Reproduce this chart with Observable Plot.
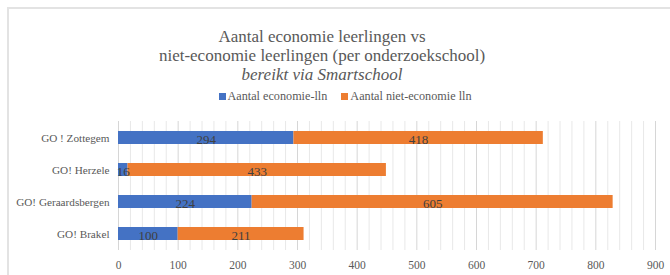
<!DOCTYPE html>
<html>
<head>
<meta charset="utf-8">
<script src="https://cdn.jsdelivr.net/npm/d3@7"></script>
<script src="https://cdn.jsdelivr.net/npm/@observablehq/plot@0.6"></script>
<style>
  html, body { margin: 0; padding: 0; background: #fff; }
  body { width: 670px; height: 275px; position: relative; overflow: hidden; font-family: "Liberation Serif", "Times New Roman", serif; }
  #frame { position: absolute; left: 7px; top: 7px; width: 700px; height: 300px; border: 2px solid #e3e3e3; box-sizing: border-box; }
  #title { position: absolute; left: 0; width: 644px; top: 27px; text-align: center; color: #595959; font-size: 17px; line-height: 19px; }
  #title i { font-style: italic; }
  #legend { position: absolute; left: 0; width: 690px; top: 89px; text-align: center; color: #595959; font-size: 12.2px; }
  #legend span.item { margin: 0 7px; }
  #legend span.sw { display: inline-block; width: 7px; height: 7px; margin-right: 2px; vertical-align: 0px; }
  #chart { position: absolute; left: 0; top: 110px; }
</style>
</head>
<body>
<div id="frame"></div>
<div id="title">Aantal economie leerlingen vs<br>niet-economie leerlingen (per onderzoekschool)<br><i>bereikt via Smartschool</i></div>
<div id="legend"></div>
<div id="chart"></div>
<script>
const schools = ["GO ! Zottegem", "GO! Herzele", "GO! Geraardsbergen", "GO! Brakel"];
const economie = [294, 16, 224, 100];
const nietEconomie = [418, 433, 605, 211];
const seriesNames = ["Aantal economie-lln", "Aantal niet-economie lln"];
const seriesColors = ["#4472C4", "#ED7D31"];
const majorTicks = d3.range(0, 901, 100);
const minorTicks = d3.range(0, 901, 20);

const data = [];
schools.forEach((s, i) => {
  data.push({school: s, series: seriesNames[0], value: economie[i]});
  data.push({school: s, series: seriesNames[1], value: nietEconomie[i]});
});

document.getElementById("legend").innerHTML = seriesNames.map((n, i) =>
  `<span class="item"><span class="sw" style="background:${seriesColors[i]}"></span>${n}</span>`).join("");

const chart = Plot.plot({
  width: 670,
  height: 165,
  marginLeft: 118,
  marginRight: 15,
  marginTop: 11,
  marginBottom: 25,
  style: {fontFamily: "Liberation Serif, Times New Roman, serif", fontSize: "11px", color: "#595959", background: "transparent"},
  x: {domain: [0, 900]},
  y: {domain: schools, paddingInner: 0.6, paddingOuter: 0.3, label: null},
  color: {domain: seriesNames, range: seriesColors},
  marks: [
    Plot.ruleX(minorTicks.filter(t => t % 100 !== 0), {stroke: "#e8e8e8", strokeWidth: 1}),
    Plot.ruleX(majorTicks, {stroke: "#d6d6d6", strokeWidth: 1}),
    Plot.barX(data, Plot.stackX({x: "value", y: "school", fill: "series", order: seriesNames})),
    Plot.text(data, Plot.stackX({x: "value", y: "school", z: "series", order: seriesNames, text: d => String(d.value), fill: "#404040", fontSize: 13, dy: 1.5})),
    Plot.axisX({ticks: majorTicks, tickSize: 0, tickPadding: 10, label: null, fontSize: 11.5, fill: "#595959"}),
    Plot.axisY({tickSize: 0, tickPadding: 9, label: null, fontSize: 11.2, fill: "#595959"})
  ]
});
document.getElementById("chart").appendChild(chart);
</script>
</body>
</html>
